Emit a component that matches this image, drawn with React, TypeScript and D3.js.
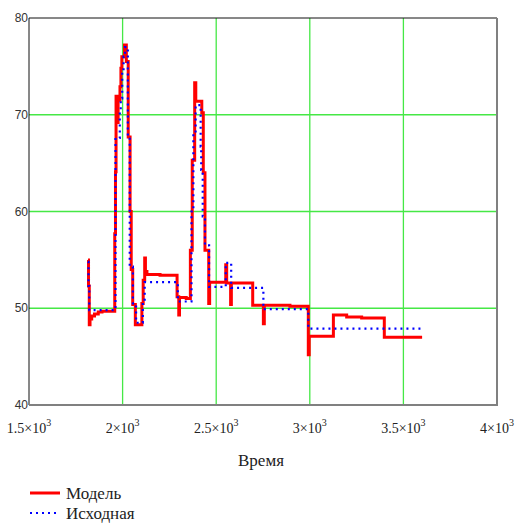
import * as d3 from 'd3';
import React from 'react';

// Модель (red) — step series
const modelX = [1815, 1818, 1822, 1826, 1835, 1850, 1870, 1890, 1958, 1962, 1965, 1970, 1976, 1986, 1991, 1996, 2010, 2020, 2030, 2040, 2046, 2054, 2068, 2103, 2110, 2118, 2122, 2130, 2200, 2291, 2300, 2304, 2340, 2362, 2372, 2385, 2391, 2423, 2431, 2440, 2460, 2465, 2551, 2556, 2577, 2581, 2695, 2752, 2757, 2894, 2992, 2997, 3126, 3197, 3277, 3398, 3600];
const modelY = [55.0, 52.3, 48.3, 48.9, 49.2, 49.4, 49.6, 49.7, 57.7, 64.1, 71.9, 69.2, 71.5, 72.9, 74.8, 76.0, 77.2, 75.5, 67.7, 60.0, 54.0, 50.4, 48.3, 50.5, 52.9, 55.2, 53.8, 53.5, 53.4, 51.2, 49.3, 51.1, 51.0, 56.0, 65.3, 73.3, 71.4, 70.2, 64.0, 56.0, 50.5, 52.7, 54.5, 52.6, 50.4, 52.6, 50.3, 48.4, 50.3, 50.2, 45.2, 47.1, 49.3, 49.1, 49.0, 47.0, 47.0];

// Исходная (blue dotted)
const sourceX = [1815, 1818, 1822, 1962, 1985, 1990, 1998, 2005, 2013, 2028, 2038, 2055, 2072, 2108, 2118, 2295, 2368, 2378, 2390, 2417, 2420, 2428, 2440, 2462, 2551, 2580, 2752, 2992, 3595];
const sourceY = [54.8, 52.3, 49.8, 67.6, 70.5, 71.7, 74.6, 76.0, 77.0, 67.7, 54.3, 50.5, 48.5, 50.9, 52.7, 50.7, 60.0, 68.0, 71.0, 66.7, 64.3, 59.5, 56.5, 52.2, 54.7, 52.1, 49.9, 47.9, 47.9];

const xTicks = [1500, 2000, 2500, 3000, 3500, 4000];
const xTickMantissa = ['1.5', '2', '2.5', '3', '3.5', '4'];
const yTicks = [40, 50, 60, 70, 80];
const xGrid = [2000, 2500, 3000, 3500];
const yGrid = [50, 60, 70];

const W = 515;
const H = 527;
const plot = { left: 29, right: 497, top: 18, bottom: 405 };
const serif = "'Liberation Serif', 'Times New Roman', serif";

const App: React.FC = () => {
  const x = d3.scaleLinear().domain([1500, 4000]).range([plot.left, plot.right]);
  const y = d3.scaleLinear().domain([40, 80]).range([plot.bottom, plot.top]);

  const line = d3.line<[number, number]>()
    .x(d => x(d[0]))
    .y(d => y(d[1]))
    .curve(d3.curveStepAfter);

  const model: [number, number][] = modelX.map((v, i) => [v, modelY[i]]);
  const source: [number, number][] = sourceX.map((v, i) => [v, sourceY[i]]);

  return (
    <div style={{ position: 'absolute', left: 0, top: 0 }}>
      <svg width={W} height={H} style={{ display: 'block', background: '#fff' }}>
        {/* grid */}
        {xGrid.map(v => (
          <line key={'gx' + v} x1={x(v)} x2={x(v)} y1={plot.top} y2={plot.bottom} stroke="#45e845" strokeWidth={1.3} />
        ))}
        {yGrid.map(v => (
          <line key={'gy' + v} x1={plot.left} x2={plot.right} y1={y(v)} y2={y(v)} stroke="#45e845" strokeWidth={1.3} />
        ))}

        {/* frame */}
        <line x1={plot.left} x2={plot.right} y1={plot.top} y2={plot.top} stroke="#111" strokeWidth={1} />
        <line x1={plot.left} x2={plot.left} y1={plot.top} y2={plot.bottom} stroke="#111" strokeWidth={1} />
        <line x1={plot.left} x2={plot.right + 1} y1={plot.bottom} y2={plot.bottom} stroke="#808080" strokeWidth={2} />
        <line x1={plot.right} x2={plot.right} y1={plot.top} y2={plot.bottom} stroke="#808080" strokeWidth={2} />

        {/* series */}
        <path d={line(model) ?? ''} fill="none" stroke="#ff0000" strokeWidth={3} />
        <path d={line(source) ?? ''} fill="none" stroke="#0000ff" strokeWidth={2.2} strokeDasharray="2,4" />

        {/* y tick labels */}
        {yTicks.map(v => (
          <text key={'yt' + v} x={plot.left - 1} y={y(v)} dy="0.35em" textAnchor="end"
            fontFamily="'Liberation Sans', Arial, sans-serif" fontSize={12} fill="#333">
            {v}
          </text>
        ))}

        {/* x tick labels */}
        {xTicks.map((v, i) => (
          <text key={'xt' + v} x={x(v)} y={433} textAnchor="middle"
            fontFamily={serif} fontSize={14} fill="#222">
            {xTickMantissa[i]}×10
            <tspan dy={-7} fontSize={10}>3</tspan>
          </text>
        ))}

        {/* axis title */}
        <text x={261} y={466} textAnchor="middle" fontFamily={serif} fontSize={17} fill="#222">
          Время
        </text>

        {/* legend */}
        <line x1={30} x2={60} y1={493} y2={493} stroke="#ff0000" strokeWidth={3} />
        <text x={66} y={499} fontFamily={serif} fontSize={17} fill="#222">
          Модель
        </text>
        <line x1={30} x2={60} y1={513} y2={513} stroke="#0000ff" strokeWidth={2.2} strokeDasharray="2,4" />
        <text x={66} y={519} fontFamily={serif} fontSize={17} fill="#222">
          Исходная
        </text>
      </svg>
    </div>
  );
};

export default App;
